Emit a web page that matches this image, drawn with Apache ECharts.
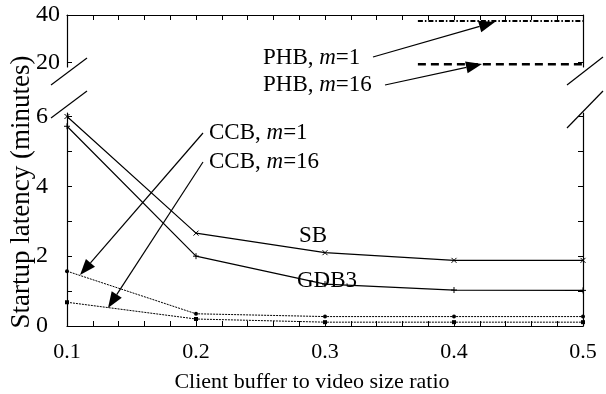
<!DOCTYPE html>
<html>
<head>
<meta charset="utf-8">
<script src="https://cdn.jsdelivr.net/npm/echarts@6/dist/echarts.min.js"></script>
<style>html,body{margin:0;padding:0;background:#fff}#c{width:606px;height:394px}</style>
</head>
<body>
<div id="c"></div>
<script>
// ---- data ----
const bufferRatio = [0.1, 0.2, 0.3, 0.4, 0.5];
const sbValues    = [6.0, 2.66, 2.1, 1.88, 1.88];
const gdb3Values  = [5.72, 2.0, 1.2, 1.03, 1.02];
const ccb1Values  = [1.57, 0.35, 0.27, 0.27, 0.27];
const ccb16Values = [0.68, 0.2, 0.11, 0.11, 0.11];
const phbX        = [0.372, 0.4, 0.5];
const phb1Values  = [37.5, 37.5, 37.5];
const phb16Values = [19.4, 19.4, 19.4];
const xTickLabels = [0.1, 0.2, 0.3, 0.4, 0.5];
const xMinorTicks = [0.1,0.12,0.14,0.16,0.18,0.2,0.22,0.24,0.26,0.28,0.3,0.32,0.34,0.36,0.38,0.4,0.42,0.44,0.46,0.48,0.5];
const yTopTicks   = [20, 40];
const yLowLabels  = [0, 2, 4, 6];
const yLowTicks   = [0, 1, 2, 3, 4, 5, 6];

const FONT = 'Liberation Serif';
const zip = (xs, ys) => xs.map((x, i) => [x, ys[i]]);
const chart = echarts.init(document.getElementById('c'), null, {renderer: 'canvas'});

const axLine = {show: true, lineStyle: {color: '#000', width: 1.2}};
function yAx(grid, pos, min, max, labels, ticks, showLabels) {
  return {
    type: 'value', gridIndex: grid, position: pos, min: min, max: max,
    axisLine: axLine,
    axisTick: {show: true, inside: true, length: 5, customValues: ticks, lineStyle: {color: '#000', width: 1}},
    axisLabel: {show: showLabels, customValues: labels, color: '#000', fontFamily: FONT, fontSize: 24, margin: 31, align: 'left'},
    splitLine: {show: false}
  };
}

// arrow helper (graphic annotations)
function arrow(x1, y1, x2, y2) {
  const dx = x2 - x1, dy = y2 - y1, L = Math.hypot(dx, dy);
  const ux = dx / L, uy = dy / L, hl = 16, hw = 6;
  const bx = x2 - ux * hl, by = y2 - uy * hl;
  return [
    {type: 'line', shape: {x1: x1, y1: y1, x2: bx, y2: by}, style: {stroke: '#000', lineWidth: 1.2}},
    {type: 'polygon', shape: {points: [[x2, y2], [bx - uy * hw, by + ux * hw], [bx + uy * hw, by - ux * hw]]}, style: {fill: '#000'}}
  ];
}
function txt(x, y, rich, align) {
  return {type: 'text', x: x, y: y, style: {text: rich, fill: '#000', font: '23px ' + FONT, align: align || 'left', verticalAlign: 'middle',
    rich: {i: {fontStyle: 'italic', fontFamily: FONT, fontSize: 23}, n: {fontFamily: FONT, fontSize: 23}}}};
}
function slash(x1, y1, x2, y2) {
  return {type: 'line', shape: {x1: x1, y1: y1, x2: x2, y2: y2}, style: {stroke: '#000', lineWidth: 1.2}};
}

const crossSym = 'path://M0,0L10,10M10,0L0,10';
const plusSym = 'path://M5,0L5,10M0,5L10,5';

const graphics = [].concat(
  [slash(51, 85, 87, 58), slash(51, 118, 87, 91), slash(567, 85, 603, 57), slash(567, 128, 603, 91)],
  arrow(373, 57, 495, 22),
  arrow(385, 85, 482, 64),
  arrow(203, 133, 80, 275),
  arrow(203, 162, 108, 308),
  [
    txt(263, 58, '{n|PHB, }{i|m}{n|=1}'),
    txt(263, 85, '{n|PHB, }{i|m}{n|=16}'),
    txt(209, 133, '{n|CCB, }{i|m}{n|=1}'),
    txt(209, 162, '{n|CCB, }{i|m}{n|=16}'),
    txt(299, 236, '{n|SB}'),
    txt(297, 281, '{n|GDB3}'),
    {type: 'text', x: 312, y: 382, style: {text: 'Client buffer to video size ratio', fill: '#000', font: '22px ' + FONT, align: 'center', verticalAlign: 'middle'}},
    {type: 'text', x: 22, y: 192, rotation: Math.PI / 2, style: {text: 'Startup latency (minutes)', fill: '#000', font: '27px ' + FONT, align: 'center', verticalAlign: 'middle'}}
  ]
);

const option = {
  backgroundColor: '#fff',
  animation: false,
  grid: [
    {left: 67, right: 23, top: 15, height: 52},
    {left: 67, right: 23, top: 113, bottom: 68}
  ],
  xAxis: [
    {type: 'value', gridIndex: 0, position: 'top', min: 0.1, max: 0.5, axisLine: axLine,
     axisTick: {show: true, inside: true, length: 5, customValues: xMinorTicks, lineStyle: {color: '#000'}},
     axisLabel: {show: false}, splitLine: {show: false}},
    {type: 'value', gridIndex: 1, position: 'bottom', min: 0.1, max: 0.5, axisLine: axLine,
     axisTick: {show: true, inside: true, length: 5, customValues: xMinorTicks, lineStyle: {color: '#000'}},
     axisLabel: {show: true, customValues: xTickLabels, formatter: v => v.toFixed(1), color: '#000', fontFamily: FONT, fontSize: 22, margin: 15},
     splitLine: {show: false}}
  ],
  yAxis: [
    yAx(0, 'left', 18.2, 40, yTopTicks, yTopTicks, true),
    yAx(0, 'right', 18.2, 40, yTopTicks, yTopTicks, false),
    yAx(1, 'left', 0, 6.1, yLowLabels, yLowTicks, true),
    yAx(1, 'right', 0, 6.1, yLowLabels, yLowTicks, false)
  ],
  series: [
    {name: 'SB', type: 'line', xAxisIndex: 1, yAxisIndex: 2, data: zip(bufferRatio, sbValues),
     symbol: crossSym, symbolSize: 5, itemStyle: {color: 'none', borderColor: '#000', borderWidth: 1},
     lineStyle: {color: '#000', width: 1.2}},
    {name: 'GDB3', type: 'line', xAxisIndex: 1, yAxisIndex: 2, data: zip(bufferRatio, gdb3Values),
     symbol: plusSym, symbolSize: 6, itemStyle: {color: 'none', borderColor: '#000', borderWidth: 1},
     lineStyle: {color: '#000', width: 1.2}},
    {name: 'CCB, m=1', type: 'line', xAxisIndex: 1, yAxisIndex: 2, data: zip(bufferRatio, ccb1Values),
     symbol: 'circle', symbolSize: 4, itemStyle: {color: '#000'},
     lineStyle: {color: '#000', width: 1, type: [2, 1]}},
    {name: 'CCB, m=16', type: 'line', xAxisIndex: 1, yAxisIndex: 2, data: zip(bufferRatio, ccb16Values),
     symbol: 'rect', symbolSize: 4, itemStyle: {color: '#000'},
     lineStyle: {color: '#000', width: 1, type: [2, 1]}},
    {name: 'PHB, m=1', type: 'line', xAxisIndex: 0, yAxisIndex: 0, data: zip(phbX, phb1Values),
     showSymbol: false, symbol: 'none', lineStyle: {color: '#000', width: 2, type: [5, 2, 1.5, 2]}},
    {name: 'PHB, m=16', type: 'line', xAxisIndex: 0, yAxisIndex: 0, data: zip(phbX, phb16Values),
     showSymbol: false, symbol: 'none', lineStyle: {color: '#000', width: 2.5, type: [8, 5]}}
  ],
  graphic: graphics
};
chart.setOption(option);
</script>
</body>
</html>
